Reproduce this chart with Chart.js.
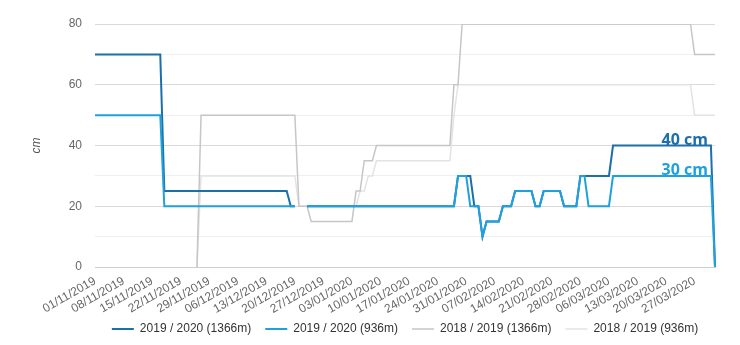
<!DOCTYPE html>
<html>
<head>
<meta charset="utf-8">
<script src="https://cdn.jsdelivr.net/npm/chart.js@4.4.1/dist/chart.umd.min.js"></script>
<style>
  body { margin: 0; background: #fff; }
  #wrap { width: 740px; height: 345px; position: relative; }
</style>
</head>
<body>
<div id="wrap"><canvas id="chart"></canvas></div>
<script>
// one category per day, 01/11/2019 .. 01/04/2020
const days = [];
for (let i = 0; i < 153; i++) {
	const d = new Date(2019, 10, 1 + i);
	days.push(
		String(d.getDate()).padStart(2, '0') + '/' +
		String(d.getMonth() + 1).padStart(2, '0') + '/' + d.getFullYear()
	);
}

const seriesNames = [
	'2019 / 2020 (1366m)',
	'2019 / 2020 (936m)',
	'2018 / 2019 (1366m)',
	'2018 / 2019 (936m)',
];

// snow depth (cm), given only where it changes
const cur1366Dates = ['01/11/2019', '17/11/2019', '18/11/2019', '18/12/2019', '19/12/2019', '20/12/2019', '21/12/2019', '23/12/2019', '28/01/2020', '29/01/2020', '01/02/2020', '02/02/2020', '03/02/2020', '04/02/2020', '05/02/2020', '08/02/2020', '09/02/2020', '11/02/2020', '12/02/2020', '16/02/2020', '17/02/2020', '18/02/2020', '19/02/2020', '23/02/2020', '24/02/2020', '27/02/2020', '28/02/2020', '06/03/2020', '07/03/2020', '31/03/2020', '01/04/2020'];
const cur1366Values = [70, 70, 25, 25, 20, 20, null, 20, 20, 30, 30, 20, 20, 10, 15, 15, 20, 20, 25, 25, 20, 20, 25, 25, 20, 20, 30, 30, 40, 40, 0];

const cur936Dates = ['01/11/2019', '17/11/2019', '18/11/2019', '20/12/2019', '21/12/2019', '23/12/2019', '28/01/2020', '29/01/2020', '31/01/2020', '01/02/2020', '03/02/2020', '04/02/2020', '05/02/2020', '08/02/2020', '09/02/2020', '11/02/2020', '12/02/2020', '16/02/2020', '17/02/2020', '18/02/2020', '19/02/2020', '23/02/2020', '24/02/2020', '27/02/2020', '28/02/2020', '29/02/2020', '01/03/2020', '06/03/2020', '07/03/2020', '31/03/2020', '01/04/2020'];
const cur936Values = [50, 50, 20, 20, null, 20, 20, 30, 30, 20, 20, 10, 15, 15, 20, 20, 25, 25, 20, 20, 25, 25, 20, 20, 30, 30, 20, 20, 30, 30, 0];

const prev1366Dates = ['26/11/2019', '27/11/2019', '20/12/2019', '21/12/2019', '23/12/2019', '24/12/2019', '03/01/2020', '04/01/2020', '05/01/2020', '06/01/2020', '08/01/2020', '09/01/2020', '27/01/2020', '28/01/2020', '29/01/2020', '30/01/2020', '26/03/2020', '27/03/2020', '01/04/2020'];
const prev1366Values = [0, 50, 50, 20, 20, 15, 15, 25, 25, 35, 35, 40, 40, 60, 60, 80, 80, 70, 70];

const prev936Dates = ['26/11/2019', '27/11/2019', '20/12/2019', '21/12/2019', '04/01/2020', '05/01/2020', '06/01/2020', '07/01/2020', '08/01/2020', '09/01/2020', '27/01/2020', '28/01/2020', '29/01/2020', '26/03/2020', '27/03/2020', '01/04/2020'];
const prev936Values = [0, 30, 30, 20, 20, 25, 25, 30, 30, 35, 35, 50, 60, 60, 50, 50];

const colors = ['#1c6fa8', '#1fa1de', '#c6c6c6', '#e3e3e3'];
const FONT = '"Liberation Sans", Arial, sans-serif';

function points(dates, values) {
	return dates.map((d, i) => ({ x: d, y: values[i] }));
}

// "40 cm" / "30 cm" above the end of the current season lines
const endLabels = {
	id: 'endLabels',
	afterDatasetsDraw(chart) {
		const ctx = chart.ctx;
		[0, 1].forEach((i) => {
			const ds = chart.data.datasets[i];
			const meta = chart.getDatasetMeta(i);
			let k = ds.data.length - 1;
			while (k > 0 && !ds.data[k].y) k--;
			const pt = meta.data[k];
			ctx.save();
			ctx.font = 'bold 16px "Open Sans", sans-serif';
			ctx.fillStyle = ds.borderColor;
			ctx.textAlign = 'right';
			ctx.fillText(ds.data[k].y + ' cm', pt.x - 3, pt.y - 5);
			ctx.restore();
		});
	},
};

const config = {
	type: 'line',
	data: {
		labels: days,
		datasets: [
			{ label: seriesNames[0], data: points(cur1366Dates, cur1366Values), borderColor: colors[0], borderWidth: 2, order: 1 },
			{ label: seriesNames[1], data: points(cur936Dates, cur936Values), borderColor: colors[1], borderWidth: 2, order: 0 },
			{ label: seriesNames[2], data: points(prev1366Dates, prev1366Values), borderColor: colors[2], borderWidth: 1.5, order: 2 },
			{ label: seriesNames[3], data: points(prev936Dates, prev936Values), borderColor: colors[3], borderWidth: 1.5, order: 3 },
		],
	},
	options: {
		responsive: true,
		maintainAspectRatio: false,
		animation: false,
		layout: { padding: { top: 24, right: 25, bottom: 0, left: 0 } },
		elements: { point: { radius: 0 }, line: { tension: 0, fill: false } },
		plugins: {
			tooltip: { enabled: false },
			legend: {
				position: 'bottom',
				fullSize: false,
				labels: {
					usePointStyle: true,
					pointStyle: 'line',
					pointStyleWidth: 22,
					padding: 14,
					color: '#333',
					font: { size: 12, family: FONT },
					sort: (a, b) => a.datasetIndex - b.datasetIndex,
				},
			},
		},
		scales: {
			x: {
				grid: { display: false, drawTicks: false },
				border: { display: true, color: '#cfcfcf' },
				ticks: {
					autoSkip: false,
					minRotation: 30,
					maxRotation: 30,
					padding: 7,
					color: '#666',
					font: { size: 12, family: FONT },
					callback: function (v, i) {
						return i % 7 === 0 ? this.getLabelForValue(v) : null;
					},
				},
				afterFit: (s) => {
					s.height = 42;
					// rotated dates hang a little into the legend band, don't clip them
					s._computeLabelArea = () => undefined;
				},
			},
			y: {
				min: 0,
				max: 80,
				border: { display: false },
				grid: {
					drawTicks: false,
					color: (c) => (c.tick.value % 20 === 0 ? '#dadada' : '#efefef'),
				},
				ticks: {
					stepSize: 10,
					padding: 13,
					color: '#666',
					font: { size: 12, family: FONT },
					callback: (v) => (v % 20 === 0 ? v : ''),
				},
				title: {
					display: true,
					text: 'cm',
					color: '#555',
					font: { size: 12, family: FONT, style: 'italic' },
					padding: { top: 29, bottom: 0 },
				},
				afterFit: (s) => { s.width = 95; },
			},
		},
	},
	plugins: [endLabels],
};

new Chart(document.getElementById('chart'), config);
</script>
</body>
</html>
